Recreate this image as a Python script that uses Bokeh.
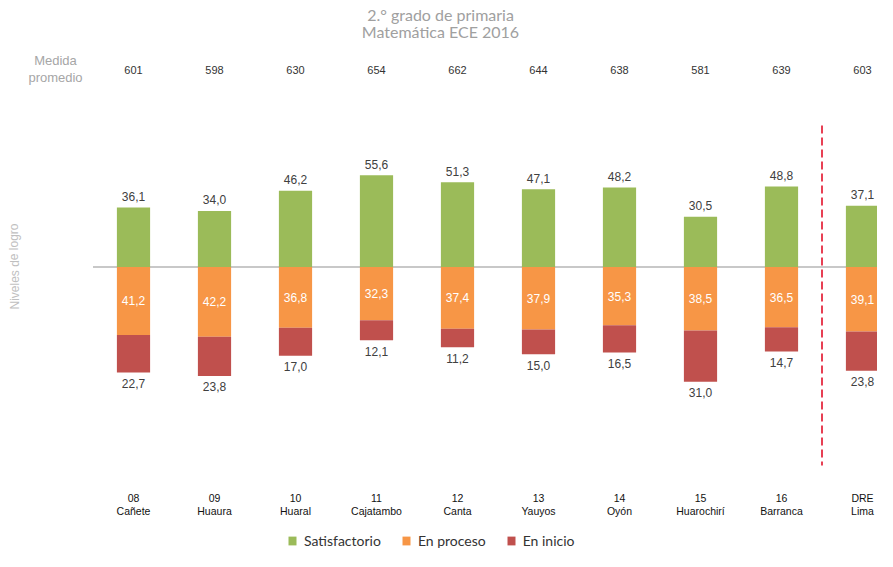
from bokeh.plotting import figure
from bokeh.models import (ColumnDataSource, Range1d, Label, Legend, LegendItem)
from bokeh.core.properties import value
from bokeh.embed import file_html
from bokeh.resources import INLINE

# ---------------- data ----------------
codes = ["08", "09", "10", "11", "12", "13", "14", "15", "16", "DRE"]
names = ["Cañete", "Huaura", "Huaral", "Cajatambo", "Canta", "Yauyos",
         "Oyón", "Huarochirí", "Barranca", "Lima"]
medida = [601, 598, 630, 654, 662, 644, 638, 581, 639, 603]
satisfactorio = [36.1, 34.0, 46.2, 55.6, 51.3, 47.1, 48.2, 30.5, 48.8, 37.1]
en_proceso = [41.2, 42.2, 36.8, 32.3, 37.4, 37.9, 35.3, 38.5, 36.5, 39.1]
en_inicio = [22.7, 23.8, 17.0, 12.1, 11.2, 15.0, 16.5, 31.0, 14.7, 23.8]

# ---------------- geometry ----------------
W, H = 877, 551
K = 1.65          # px per percentage point
ZERO_PX = 266.5   # zero line from top of figure
X0_PX, DX = 133.0, 81.0

GREEN, ORANGE, RED = "#9BBB59", "#F79646", "#C0504D"


def fmt(v):
    return f"{v:.1f}".replace(".", ",")


xs = list(range(len(codes)))
src = ColumnDataSource(dict(
    x=xs,
    code=codes,
    name=names,
    medida=[str(m) for m in medida],
    s_top=satisfactorio,
    p_bot=[-p for p in en_proceso],
    p_mid=[-p / 2 for p in en_proceso],
    i_top=[-p for p in en_proceso],
    i_bot=[-(p + i) for p, i in zip(en_proceso, en_inicio)],
    s_lab=[fmt(v) for v in satisfactorio],
    p_lab=[fmt(v) for v in en_proceso],
    i_lab=[fmt(v) for v in en_inicio],
))

p = figure(width=W, height=H, output_backend="svg", toolbar_location=None,
           min_border=0, min_border_left=0, min_border_right=0,
           min_border_top=0, min_border_bottom=0)
p.x_range = Range1d(-X0_PX / DX, (W - X0_PX) / DX)
p.y_range = Range1d(-(H - ZERO_PX) / K, ZERO_PX / K)
p.axis.visible = False
p.grid.visible = False
p.outline_line_color = None
p.background_fill_color = "white"
p.border_fill_color = "white"


def ypx(px_from_top):
    return (ZERO_PX - px_from_top) / K


# zero line
p.segment(x0=-0.5, y0=0, x1=9.6, y1=0, line_color="#C8C8C8", line_width=2)

# bars
bw = 0.41
r_s = p.vbar(x="x", top="s_top", bottom=0, width=bw, source=src,
             fill_color=GREEN, line_color=None)
r_p = p.vbar(x="x", top=0, bottom="p_bot", width=bw, source=src,
             fill_color=ORANGE, line_color=None)
r_i = p.vbar(x="x", top="i_top", bottom="i_bot", width=bw, source=src,
             fill_color=RED, line_color=None)

# separator dashed line (between Barranca and DRE Lima)
p.segment(x0=8.5, y0=ypx(125), x1=8.5, y1=ypx(465), line_color="#E0001B",
          line_width=1.5, line_dash="8 4")

lab_font = value("Liberation Sans")
p.text(x="x", y="s_top", text="s_lab", source=src, text_align="center",
       text_baseline="middle", y_offset=-11, text_font=lab_font,
       text_font_size="12px", text_color="#404040")
p.text(x="x", y="p_mid", text="p_lab", source=src, text_align="center",
       text_baseline="middle", text_font=lab_font,
       text_font_size="12px", text_color="white")
p.text(x="x", y="i_bot", text="i_lab", source=src, text_align="center",
       text_baseline="middle", y_offset=11, text_font=lab_font,
       text_font_size="12px", text_color="#404040")

# medida promedio row
p.text(x="x", y=ypx(69), text="medida", source=src, text_align="center",
       text_baseline="middle", text_font=lab_font, text_font_size="11px",
       text_color="#333333")

# category labels
p.text(x="x", y=ypx(497), text="code", source=src, text_align="center",
       text_baseline="middle", text_font=lab_font, text_font_size="10.5px",
       text_color="#111111")
p.text(x="x", y=ypx(510), text="name", source=src, text_align="center",
       text_baseline="middle", text_font=lab_font, text_font_size="10.5px",
       text_color="#111111")


# titles and side labels (screen units, from bottom-left of frame)
def add_label(text, x, y_top, size, color, font="Lato", angle=0.0,
              align="center"):
    p.add_layout(Label(x=x, y=H - y_top, x_units="screen", y_units="screen",
                       text=text, text_align=align, text_baseline="middle",
                       text_font=font, text_font_size=size, text_color=color,
                       angle=angle))


add_label("2.° grado de primaria", 440, 14, "16px", "#A0A0A0")
add_label("Matemática ECE 2016", 440, 31, "16px", "#A0A0A0")
add_label("Medida", 55, 60, "13px", "#A6A6A6", font="Liberation Sans")
add_label("promedio", 55, 77, "13px", "#A6A6A6", font="Liberation Sans")
add_label("Niveles de logro", 14, 266, "12px", "#BFBFBF",
          font="Liberation Sans", angle=1.5708)

# legend
legend = Legend(items=[
    LegendItem(label="Satisfactorio", renderers=[r_s]),
    LegendItem(label="En proceso", renderers=[r_p]),
    LegendItem(label="En inicio", renderers=[r_i]),
], orientation="horizontal", location=(287, 2), glyph_width=10,
    glyph_height=11, label_height=12, label_standoff=7, spacing=20,
    padding=0, margin=0, border_line_color=None, background_fill_alpha=0,
    label_text_font="Lato", label_text_font_size="14px",
    label_text_color="#333333")
p.add_layout(legend, "center")

open("out.html", "w").write(file_html(p, INLINE))
